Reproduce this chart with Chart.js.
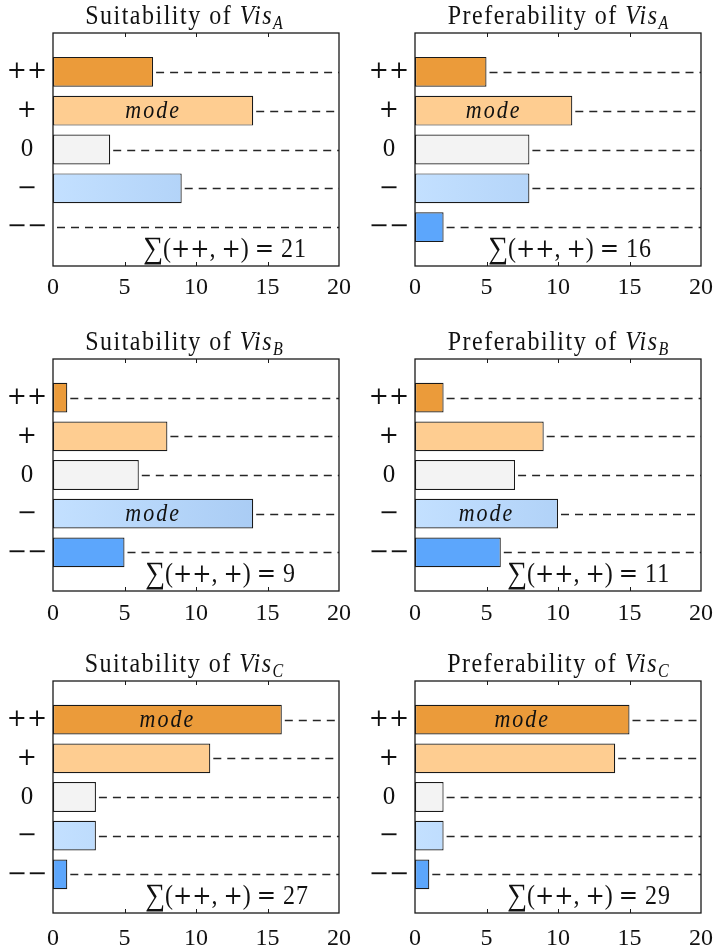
<!DOCTYPE html>
<html>
<head>
<meta charset="utf-8">
<script src="https://cdn.jsdelivr.net/npm/chart.js@4/dist/chart.umd.min.js"></script>
<style>
  html, body { margin: 0; padding: 0; background: #fff; overflow: hidden; }
  #wrap { position: relative; width: 713px; height: 949px; }
  #wrap canvas { position: absolute; }
</style>
</head>
<body>
<div id="wrap"></div>
<script>
// answers per category
const CATEGORIES = ['++', '+', '0', '\u2212', '\u2212\u2212'];
const SUITABILITY_A = [7, 14, 4, 9, 0];
const PREFERABILITY_A = [5, 11, 8, 8, 2];
const SUITABILITY_B = [1, 8, 6, 14, 5];
const PREFERABILITY_B = [2, 9, 7, 10, 6];
const SUITABILITY_C = [16, 11, 3, 3, 1];
const PREFERABILITY_C = [15, 14, 2, 2, 1];
const X_TICKS = [0, 5, 10, 15, 20];

const COLORS = {
  pp: '#eb9b3a',
  p: '#fecd91',
  zero: '#f3f3f3',
  mLeft: '#c3e0ff',
  mRight: '#9fc4f0',
  mm: '#5ca6fc',
  edge: '#1a1a1a',
  dash: '#262626',
  text: '#111111',
};

// layout of the 3x2 grid
const COL_LEFT = [0, 360];
const COL_WIDTH = [360, 353];
const AXIS_W = [53, 55];
const PAD_R = [21, 12];
const TITLE_SHIFT = [-12, 0];
const ROW_BOX_TOP = [33, 359, 681];
const ROW_BOX_H = [233, 232, 232];
const ROW_TICK_PAD = [7, 8, 11];
const TOP_SPACE = 33;
const X_AXIS_H = 40;
const SERIF = "'Liberation Serif', 'Times New Roman', serif";
const MATH = "'DejaVu Serif', serif";

const PANELS = [
  { kind: 'Suitability', vis: 'A', values: SUITABILITY_A, row: 0, col: 0, sumX: 90 },
  { kind: 'Preferability', vis: 'A', values: PREFERABILITY_A, row: 0, col: 1, sumX: 73 },
  { kind: 'Suitability', vis: 'B', values: SUITABILITY_B, row: 1, col: 0, sumX: 92 },
  { kind: 'Preferability', vis: 'B', values: PREFERABILITY_B, row: 1, col: 1, sumX: 92 },
  { kind: 'Suitability', vis: 'C', values: SUITABILITY_C, row: 2, col: 0, sumX: 92 },
  { kind: 'Preferability', vis: 'C', values: PREFERABILITY_C, row: 2, col: 1, sumX: 92 },
];

function drawPieces(ctx, pieces, x, y, align, stretch) {
  ctx.save();
  let total = 0;
  pieces.forEach(p => {
    ctx.font = p.font;
    ctx.letterSpacing = p.spacing || '0px';
    p.w = ctx.measureText(p.text).width;
    total += p.w;
  });
  let cx = align === 'center' ? x - total / 2 : x;
  ctx.translate(0, y);
  ctx.scale(1, stretch);
  ctx.textAlign = 'left';
  ctx.textBaseline = 'alphabetic';
  ctx.fillStyle = COLORS.text;
  pieces.forEach(p => {
    ctx.font = p.font;
    ctx.letterSpacing = p.spacing || '0px';
    ctx.fillText(p.text, cx, (p.dy || 0) / stretch);
    cx += p.w;
  });
  ctx.restore();
}

function barFill(context) {
  const i = context.dataIndex;
  if (i === 4) {
    const chart = context.chart;
    const area = chart.chartArea;
    if (!area) return COLORS.mRight;
    const g = chart.ctx.createLinearGradient(area.left, 0, area.right, 0);
    g.addColorStop(0, COLORS.mLeft);
    g.addColorStop(1, COLORS.mRight);
    return g;
  }
  return [null, COLORS.pp, COLORS.p, COLORS.zero, null, COLORS.mm, null][i];
}

const panelDecor = {
  id: 'panelDecor',
  afterDatasetsDraw(chart) {
    const { ctx, chartArea: a, scales: { x, y } } = chart;
    const p = chart.options.plugins.panelDecor;
    const vals = p.values;

    // dashed guide from each bar end to the right frame
    ctx.save();
    ctx.strokeStyle = COLORS.dash;
    ctx.lineWidth = 1.6;
    ctx.setLineDash([8, 6]);
    vals.forEach((v, k) => {
      const yy = Math.round(y.getPixelForValue(k + 1)) + 0.5;
      const xs = v > 0 ? x.getPixelForValue(v) + 3 : a.left + 4;
      ctx.beginPath();
      ctx.moveTo(xs, yy);
      ctx.lineTo(a.right, yy);
      ctx.stroke();
    });
    ctx.restore();

    // frame + inner ticks
    ctx.save();
    ctx.strokeStyle = COLORS.edge;
    ctx.lineWidth = 1.3;
    ctx.strokeRect(a.left, a.top, a.right - a.left, a.bottom - a.top);
    ctx.lineWidth = 1;
    X_TICKS.slice(1, -1).forEach(t => {
      const xx = Math.round(x.getPixelForValue(t)) + 0.5;
      ctx.beginPath();
      ctx.moveTo(xx, a.top); ctx.lineTo(xx, a.top + 4);
      ctx.moveTo(xx, a.bottom); ctx.lineTo(xx, a.bottom - 4);
      ctx.stroke();
    });
    ctx.restore();

    // "mode" label on the largest bar
    const modeIdx = vals.indexOf(Math.max(...vals));
    const mx = (a.left + x.getPixelForValue(vals[modeIdx])) / 2;
    const my = y.getPixelForValue(modeIdx + 1) + 7;
    drawPieces(ctx, [{ text: 'mode', font: 'italic 22px ' + SERIF, spacing: '2px' }], mx, my, 'center', 1.1);

    // title
    drawPieces(ctx, [
      { text: p.kind + ' of ', font: '24px ' + SERIF, spacing: '1.5px' },
      { text: 'Vis', font: 'italic 24px ' + SERIF, spacing: '1.5px' },
      { text: p.vis, font: 'italic 16px ' + SERIF, dy: 5 },
    ], (a.left + a.right) / 2 + p.titleShift, a.top - 9, 'center', 1.15);

    // sum of the two positive categories
    const sum = vals[0] + vals[1];
    const txt = '24px ' + SERIF;
    const sym = '23px ' + MATH;
    drawPieces(ctx, [
      { text: '\u2211', font: '28px ' + SERIF, dy: 1 },
      { text: '(', font: txt },
      { text: '++', font: sym },
      { text: ', ', font: txt },
      { text: '+', font: sym },
      { text: ') ', font: txt },
      { text: '=', font: sym },
      { text: ' ' + sum, font: txt, spacing: '1px' },
    ], a.left + p.sumX, a.bottom - 9, 'left', 1.1);
  }
};

function tickFont(c) {
  const label = c.tick ? c.tick.label : '';
  return label === '0' ? { family: SERIF, size: 25 } : { family: MATH, size: 24 };
}

const wrap = document.getElementById('wrap');

PANELS.forEach(panel => {
  const canvas = document.createElement('canvas');
  const w = COL_WIDTH[panel.col];
  const h = TOP_SPACE + ROW_BOX_H[panel.row] + X_AXIS_H;
  canvas.width = w;
  canvas.height = h;
  canvas.style.left = COL_LEFT[panel.col] + 'px';
  canvas.style.top = (ROW_BOX_TOP[panel.row] - TOP_SPACE) + 'px';
  canvas.style.width = w + 'px';
  canvas.style.height = h + 'px';
  wrap.appendChild(canvas);

  new Chart(canvas, {
    type: 'bar',
    data: {
      labels: ['', ...CATEGORIES, ''],
      datasets: [{
        data: [null, ...panel.values, null],
        backgroundColor: barFill,
        borderColor: COLORS.edge,
        borderWidth: 1.2,
        borderSkipped: false,
        barPercentage: 0.77,
        categoryPercentage: 1,
      }],
    },
    options: {
      indexAxis: 'y',
      responsive: false,
      animation: false,
      devicePixelRatio: 1,
      layout: { padding: { top: TOP_SPACE, right: PAD_R[panel.col], left: 0, bottom: 0 } },
      plugins: {
        legend: { display: false },
        tooltip: { enabled: false },
        panelDecor: {
          kind: panel.kind,
          vis: panel.vis,
          values: panel.values,
          sumX: panel.sumX,
          titleShift: TITLE_SHIFT[panel.col],
        },
      },
      scales: {
        x: {
          type: 'linear',
          min: 0,
          max: 20,
          grid: { display: false, drawTicks: false },
          border: { display: false },
          afterBuildTicks: s => { s.ticks = X_TICKS.map(v => ({ value: v })); },
          afterFit: s => { s.height = X_AXIS_H; s.paddingLeft = 0; s.paddingRight = 0; },
          ticks: {
            color: COLORS.text,
            font: { family: SERIF, size: 24 },
            padding: ROW_TICK_PAD[panel.row],
            maxRotation: 0,
          },
        },
        y: {
          type: 'category',
          offset: false,
          grid: { display: false, drawTicks: false },
          border: { display: false },
          afterFit: s => { s.width = AXIS_W[panel.col]; s.paddingTop = 0; s.paddingBottom = 0; },
          ticks: {
            color: COLORS.text,
            font: tickFont,
            padding: 6,
            crossAlign: 'center',
            autoSkip: false,
          },
        },
      },
    },
    plugins: [panelDecor],
  });
});
</script>
</body>
</html>
